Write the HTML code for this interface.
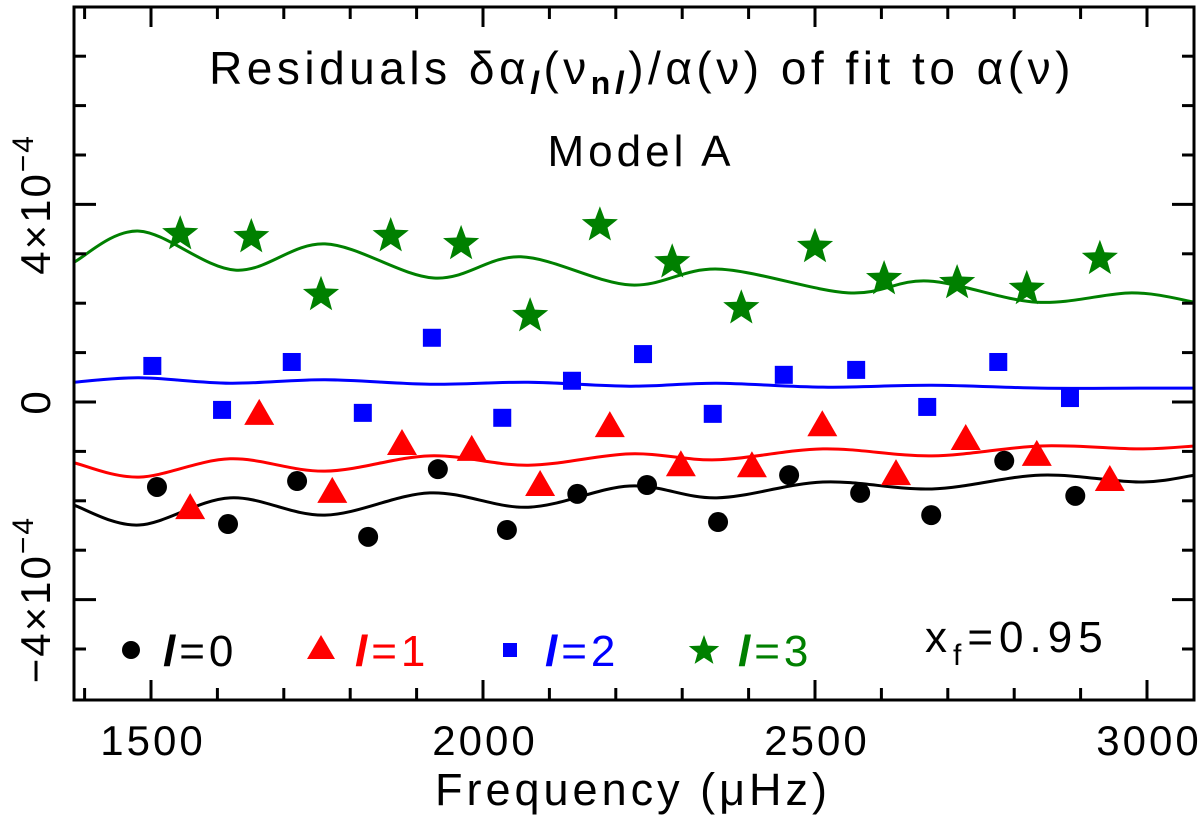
<!DOCTYPE html>
<html><head><meta charset="utf-8"><style>
html,body{margin:0;padding:0;background:#fff;}
svg{display:block;font-family:"Liberation Sans",sans-serif;}
</style></head><body>
<svg id="chart" width="1200" height="822" viewBox="0 0 1200 822" xmlns="http://www.w3.org/2000/svg">
<rect x="0" y="0" width="1200" height="822" fill="#fff"/>
<g id="curves"></g>
<g id="marks"></g>
<rect x="74" y="7" width="1120" height="693" fill="none" stroke="#000" stroke-width="3"/>
<g id="ticks"></g>
<text x="642" y="84" font-size="46" letter-spacing="4.5" text-anchor="middle">Residuals δα<tspan font-style="italic" font-weight="bold" font-size="32" dy="10">l</tspan><tspan dy="-10">(ν</tspan><tspan font-size="32" font-weight="bold" dy="10">n<tspan font-style="italic">l</tspan></tspan><tspan dy="-10">)/α(ν) of fit to α(ν)</tspan></text>
<text x="641" y="166" font-size="44" letter-spacing="4" text-anchor="middle">Model A</text>
<text x="633" y="805" font-size="45" letter-spacing="4" text-anchor="middle">Frequency (μHz)</text>
<g id="legend" font-size="44" letter-spacing="4">
<circle cx="131" cy="650" r="9" fill="#000"/>
<text x="163" y="666" fill="#000"><tspan font-style="italic" font-weight="bold">l</tspan>=0</text>
<polygon points="307,659 335,659 321,635" fill="#f00"/>
<text x="355" y="666" fill="#f00"><tspan font-style="italic" font-weight="bold">l</tspan>=1</text>
<rect x="503" y="643" width="14" height="14" fill="#00f"/>
<text x="545" y="666" fill="#00f"><tspan font-style="italic" font-weight="bold">l</tspan>=2</text>
<g id="legstar"></g>
<text x="738" y="666" fill="#008000"><tspan font-style="italic" font-weight="bold">l</tspan>=3</text>
<text x="925" y="652" letter-spacing="6">x<tspan font-size="30" dy="13">f</tspan><tspan dy="-13">=0.95</tspan></text>
</g>
</svg>
<script>
const fL0 = [1509,1616,1720,1827,1932,2036,2142,2247,2354,2461,2568,2675,2785,2892];
const vL0 = [-1.72,-2.47,-1.60,-2.73,-1.36,-2.59,-1.86,-1.68,-2.43,-1.48,-1.84,-2.29,-1.19,-1.90];
const fL1 = [1559,1663,1773,1878,1983,2086,2191,2298,2405,2511,2622,2727,2834,2944];
const vL1 = [-2.19,-0.28,-1.86,-0.89,-1.01,-1.72,-0.53,-1.32,-1.34,-0.51,-1.50,-0.79,-1.11,-1.62];
const fL2 = [1502,1607,1712,1819,1923,2029,2134,2241,2346,2453,2562,2669,2776,2884];
const vL2 = [0.73,-0.16,0.81,-0.22,1.30,-0.32,0.43,0.97,-0.24,0.55,0.65,-0.10,0.81,0.08];
const fL3 = [1544,1651,1756,1861,1967,2071,2176,2285,2389,2500,2604,2714,2819,2929];
const vL3 = [3.44,3.38,2.21,3.40,3.24,1.78,3.62,2.87,1.94,3.18,2.53,2.45,2.33,2.94];
const fFit = [1384,1482,1619,1762,1920,2068,2221,2352,2512,2676,2840,2988,3072];
const fFit3 = [1384,1482,1627,1762,1926,2057,2221,2355,2550,2670,2834,2977,3072];
const fit0 = [-2.09,-2.49,-1.94,-2.29,-1.84,-2.13,-1.70,-1.94,-1.62,-1.76,-1.48,-1.62,-1.48];
const fit1 = [-1.23,-1.52,-1.15,-1.40,-1.09,-1.28,-1.05,-1.17,-0.95,-1.09,-0.89,-0.95,-0.89];
const fit2 = [0.40,0.49,0.38,0.45,0.36,0.40,0.32,0.38,0.30,0.34,0.28,0.28,0.28];
const fit3 = [2.83,3.46,2.67,3.20,2.51,2.94,2.37,2.69,2.21,2.45,2.02,2.21,2.02];
const xTicks = [1500,2000,2500,3000];
const xTickLabels = ["1500","2000","2500","3000"];
const yTicks = [-4,0,4];

const NS="http://www.w3.org/2000/svg";
const X = f => 151 + (f-1500)*0.664;
const Y = v => 402 - v*49.4;
function mk(tag, attrs, parent){const e=document.createElementNS(NS,tag);for(const k in attrs)e.setAttribute(k,attrs[k]);parent.appendChild(e);return e;}
const curves=document.getElementById('curves'), marks=document.getElementById('marks'), ticks=document.getElementById('ticks');

function smooth(fs, vs){
  const p=fs.map((f,i)=>[X(f),Y(vs[i])]);
  let d=`M${p[0][0]},${p[0][1]}`;
  for(let i=0;i<p.length-1;i++){
    const p0=p[Math.max(0,i-1)],p1=p[i],p2=p[i+1],p3=p[Math.min(p.length-1,i+2)];
    const c1=[p1[0]+(p2[0]-p0[0])/6,p1[1]+(p2[1]-p0[1])/6];
    const c2=[p2[0]-(p3[0]-p1[0])/6,p2[1]-(p3[1]-p1[1])/6];
    d+=` C${c1[0]},${c1[1]} ${c2[0]},${c2[1]} ${p2[0]},${p2[1]}`;
  }
  return d;
}
const fits=[[fFit,fit0,'#000','fit-curve-l0'],[fFit,fit1,'#f00','fit-curve-l1'],[fFit,fit2,'#00f','fit-curve-l2'],[fFit3,fit3,'#008000','fit-curve-l3']];
fits.forEach(([fs,vs,c,n])=>{
  const e=mk('path',{d:smooth(fs,vs),fill:'none',stroke:c,'stroke-width':3},curves);
  
  
});
function starPts(cx,cy,R){const r=R*0.42;let s=[];for(let i=0;i<10;i++){const a=-Math.PI/2+i*Math.PI/5;const rr=i%2?r:R;s.push((cx+rr*Math.cos(a)).toFixed(1)+','+(cy+rr*Math.sin(a)).toFixed(1));}return s.join(' ');}
fL0.forEach((f,i)=>{const e=mk('circle',{cx:X(f),cy:Y(vL0[i]),r:10,fill:'#000'},marks);
  
  });
fL1.forEach((f,i)=>{const x=X(f),y=Y(vL1[i]);const e=mk('polygon',{points:`${x-15},${y+9} ${x+15},${y+9} ${x},${y-17}`,fill:'#f00'},marks);
  
  });
fL2.forEach((f,i)=>{const e=mk('rect',{x:X(f)-9,y:Y(vL2[i])-9,width:18,height:18,fill:'#00f'},marks);
  
  });
fL3.forEach((f,i)=>{const e=mk('polygon',{points:starPts(X(f),Y(vL3[i])+2,19),fill:'#008000'},marks);
  
  });
const ls=mk('polygon',{points:starPts(704,651,16),fill:'#008000'},document.getElementById('legstar'));



for(let f=1400;f<=3000;f+=100){
  const x=X(f); if(x<76) continue;
  const L=(f%500===0)?20:12;
  mk('line',{x1:x,y1:700,x2:x,y2:700-L,stroke:'#000','stroke-width':3},ticks);
  mk('line',{x1:x,y1:7,x2:x,y2:7+L,stroke:'#000','stroke-width':3},ticks);
}
xTicks.forEach((f,i)=>{const t=mk('text',{x:X(f)+2,y:755,'font-size':42,'letter-spacing':3,'text-anchor':'middle'},ticks);t.textContent=xTickLabels[i];
  
  });
for(let v=-6;v<=8;v++){
  const y=Y(v); if(y<9||y>698) continue;
  const L=(v%4===0)?22:12;
  mk('line',{x1:74,y1:y,x2:74+L,y2:y,stroke:'#000','stroke-width':3},ticks);
  mk('line',{x1:1194,y1:y,x2:1194-L,y2:y,stroke:'#000','stroke-width':3},ticks);
}
yTicks.forEach(v=>{
  const y=Y(v);
  const t=mk('text',{x:0,y:0,'font-size':42,'letter-spacing':2,'text-anchor':'middle',transform:`translate(50,${y}) rotate(-90)`},ticks);
  
  
  if(v===0){t.textContent='0';}
  else{
    t.innerHTML=(v<0?'−':'')+Math.abs(v)+'×10<tspan font-size="30" dy="-17">−4</tspan>';
  }
});
</script>
</body></html>
